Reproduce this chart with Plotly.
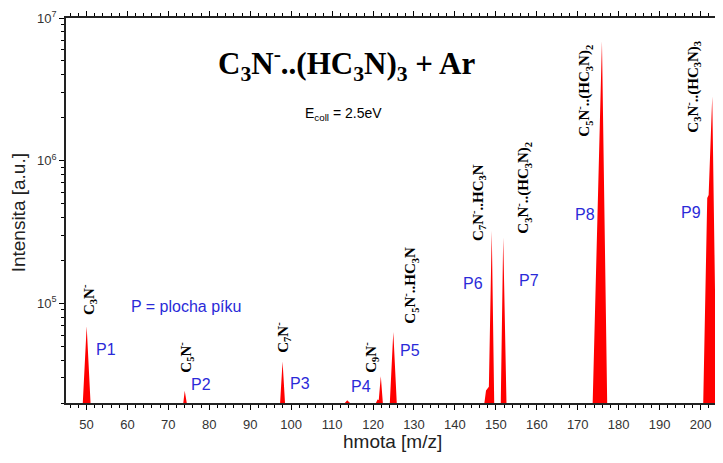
import plotly.graph_objects as go

# ---- data ----
# spectrum outline: m/z and intensity (a.u.); baseline points sit at the axis floor
mz = [45.0, 49.1, 50.05, 51.0,
      73.65, 74.0, 74.5,
      97.3, 97.9, 98.5,
      113.1, 113.7, 114.4,
      120.7, 121.1, 121.4, 121.9, 122.4,
      124.1, 124.95, 125.8,
      147.2, 147.6, 148.3, 149.0, 149.6,
      151.2, 151.8, 152.6,
      173.65, 175.92, 177.2,
      200.66, 201.64, 201.98, 202.86, 203.93, 205.0]
intensity = [2.0e4, 2.0e4, 6.9e4, 2.0e4,
             2.0e4, 2.44e4, 2.0e4,
             2.0e4, 3.92e4, 2.0e4,
             2.0e4, 2.09e4, 2.0e4,
             2.0e4, 2.12e4, 2.1e4, 3.08e4, 2.0e4,
             2.0e4, 6.3e4, 2.0e4,
             2.0e4, 2.45e4, 2.6e4, 3.23e5, 2.0e4,
             2.0e4, 2.9e5, 2.0e4,
             2.0e4, 6.86e6, 2.0e4,
             2.0e4, 5.48e5, 5.75e5, 2.82e6, 2.0e4, 2.0e4]

x_ticks = [50, 60, 70, 80, 90, 100, 110, 120, 130, 140, 150, 160, 170, 180, 190, 200]
y_ticks = [1e5, 1e6, 1e7]
y_ticktext = ["10<sup>5</sup>", "10<sup>6</sup>", "10<sup>7</sup>"]

# peak assignments: label text, anchor m/z, anchor log10(intensity)
peak_labels = ["C<sub>3</sub>N<sup>-</sup>",
               "C<sub>5</sub>N<sup>-</sup>",
               "C<sub>7</sub>N<sup>-</sup>",
               "C<sub>9</sub>N<sup>-</sup>",
               "C<sub>5</sub>N<sup>-</sup>..HC<sub>3</sub>N",
               "C<sub>7</sub>N<sup>-</sup>..HC<sub>3</sub>N",
               "C<sub>3</sub>N<sup>-</sup>..(HC<sub>3</sub>N)<sub>2</sub>",
               "C<sub>5</sub>N<sup>-</sup>..(HC<sub>3</sub>N)<sub>2</sub>",
               "C<sub>3</sub>N<sup>-</sup>..(HC<sub>3</sub>N)<sub>3</sub>"]
peak_label_x = [50.6, 74.1, 97.8, 119.3, 129.0, 145.6, 156.6, 171.5, 198.2]
peak_label_y = [5.03, 4.62, 4.76, 4.62, 5.13, 5.71, 5.81, 6.49, 6.52]

area_labels = ["P1", "P2", "P3", "P4", "P5", "P6", "P7", "P8", "P9"]
area_label_x = [54.8, 78.0, 102.2, 117.1, 129.0, 144.4, 158.1, 171.8, 197.7]
area_label_y = [4.68, 4.43, 4.44, 4.42, 4.67, 5.14, 5.16, 5.62, 5.64]

title_text = "C<sub>3</sub>N<sup>-</sup>..(HC<sub>3</sub>N)<sub>3</sub> + Ar"
energy_text = "E<sub>coll</sub> = 2.5eV"
legend_text = "P = plocha píku"
x_title = "hmota [m/z]"
y_title = "Intensita [a.u.]"

BLUE = "#2a2ad8"
LABEL_FONT = dict(family="Liberation Sans", size=13, color="#333")

fig = go.Figure()
fig.add_trace(go.Scatter(
    x=mz, y=intensity, mode="lines", fill="toself",
    fillcolor="#ff0000", line=dict(color="#ff0000", width=0),
    hoverinfo="skip", showlegend=False))
# invisible copy on a label-only x axis (places the tick numbers a little lower)
fig.add_trace(go.Scatter(
    x=mz, y=intensity, mode="lines", xaxis="x2", yaxis="y",
    line=dict(width=0), opacity=0, hoverinfo="skip", showlegend=False))

annotations = []
for t, x, y in zip(peak_labels, peak_label_x, peak_label_y):
    annotations.append(dict(x=x, y=y, xref="x", yref="y", text=t, showarrow=False,
                            textangle=-90, xanchor="center", yanchor="middle",
                            font=dict(family="Liberation Serif", size=15, color="black",
                                      weight="bold")))
for t, x, y in zip(area_labels, area_label_x, area_label_y):
    annotations.append(dict(x=x, y=y, xref="x", yref="y", text=t, showarrow=False,
                            xanchor="center", yanchor="middle",
                            font=dict(family="Liberation Sans", size=16, color=BLUE)))
annotations.append(dict(x=74.3, y=4.98, xref="x", yref="y", text=legend_text, showarrow=False,
                        xanchor="center", yanchor="middle",
                        font=dict(family="Liberation Sans", size=16, color=BLUE)))
annotations.append(dict(x=113.4, y=6.68, xref="x", yref="y", text=title_text, showarrow=False,
                        xanchor="center", yanchor="middle",
                        font=dict(family="Liberation Serif", size=31, color="black", weight="bold")))
annotations.append(dict(x=112.8, y=6.33, xref="x", yref="y", text=energy_text, showarrow=False,
                        xanchor="center", yanchor="middle",
                        font=dict(family="Liberation Sans", size=14, color="black")))
annotations.append(dict(x=0.499, y=-0.068, xref="paper", yref="paper", text=x_title,
                        showarrow=False, xanchor="center", yanchor="middle",
                        font=dict(family="Liberation Sans", size=19, color="#222")))
annotations.append(dict(x=-0.072, y=0.51, xref="paper", yref="paper", text=y_title,
                        showarrow=False, xanchor="center", yanchor="middle", textangle=-90,
                        font=dict(family="Liberation Sans", size=19, color="#222")))

# the page body adds an 8 px offset, so the figure is drawn 8 px smaller
fig.update_layout(
    width=715, height=455,
    margin=dict(l=58, r=2, t=10, b=48, autoexpand=False),
    paper_bgcolor="white", plot_bgcolor="white",
    showlegend=False,
    annotations=annotations,
    xaxis=dict(range=[45, 205], tickvals=x_ticks, ticks="outside", ticklen=5, tickwidth=1,
               tickcolor="black", showline=True, linecolor="#222", linewidth=1.5,
               mirror="ticks", showgrid=False, zeroline=False, automargin=False,
               showticklabels=False, anchor="y",
               minor=dict(dtick=2, ticks="outside", ticklen=3, tickcolor="black", showgrid=False)),
    xaxis2=dict(range=[45, 205], matches="x", overlaying="x", anchor="free", position=0,
                side="bottom", tickvals=x_ticks, ticks="", showline=False, showgrid=False,
                zeroline=False, automargin=False, tickfont=LABEL_FONT),
    yaxis=dict(type="log", range=[4.301, 7], domain=[0.030, 1], tickvals=y_ticks,
               ticktext=y_ticktext,
               ticks="outside", ticklen=5, tickwidth=1, tickcolor="black",
               showline=True, linecolor="#222", linewidth=1.5, mirror="ticks",
               showgrid=False, zeroline=False, automargin=False,
               minor=dict(dtick="D1", ticks="outside", ticklen=3, tickcolor="black", showgrid=False),
               tickfont=LABEL_FONT),
)

fig.write_html("out.html")
